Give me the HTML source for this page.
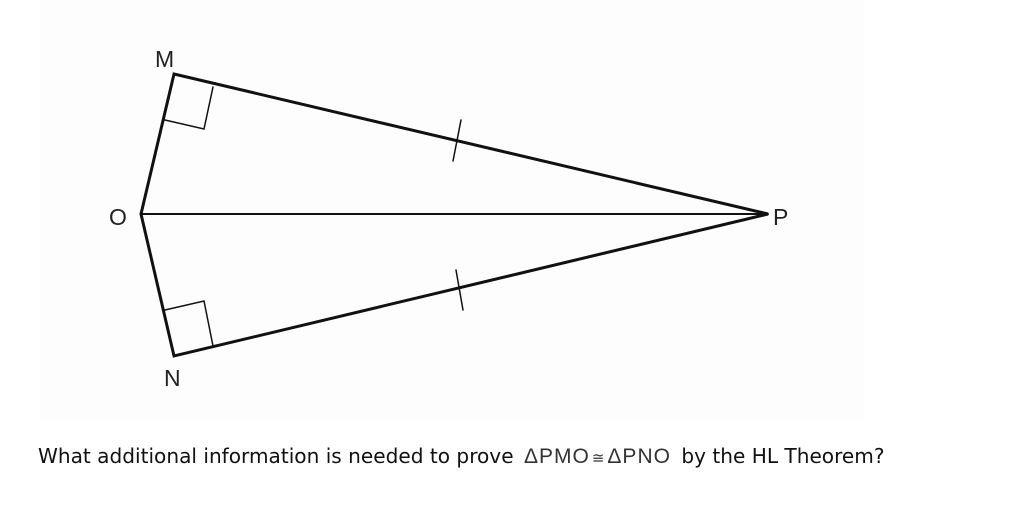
<!DOCTYPE html>
<html><head><meta charset="utf-8"><style>
html,body{margin:0;padding:0;background:#fff;}
body{width:1009px;height:506px;position:relative;overflow:hidden;}
svg{position:absolute;left:0;top:0;}
.q{position:absolute;left:38px;top:444px;font-family:"DejaVu Sans",sans-serif;font-size:20.1px;color:#111;white-space:nowrap;}
.m{display:inline-block;margin:0 4px 0 4px;font-family:"Liberation Sans",sans-serif;font-size:21px;color:#333;letter-spacing:1px;}
.c{font-size:15px;margin:0 2px;}
</style></head><body>
<svg width="1009" height="506">
<rect x="38" y="0" width="827" height="420" fill="#fdfdfd"/>
<g stroke="#111" fill="none" stroke-linecap="round">
<path d="M174 74 L768 214 L174 356 L141 214 Z" stroke-width="3"/>
<line x1="141" y1="214" x2="768" y2="214" stroke-width="2"/>
<path d="M165 120 L204 129 L213 87" stroke-width="1.5"/>
<path d="M165 310 L204 301 L213 346" stroke-width="1.5"/>
<line x1="453" y1="161" x2="461" y2="120" stroke-width="1.5"/>
<line x1="456" y1="270" x2="463" y2="310" stroke-width="1.5"/>
</g>
<g style="font-family:'Liberation Sans',sans-serif;font-size:23px;fill:#222">
<text x="155" y="67">M</text>
<text x="109" y="225">O</text>
<text x="773" y="225">P</text>
<text x="164" y="386">N</text>
</g>
</svg>
<div class="q">What additional information is needed to prove <span class="m">ΔPMO<span class="c">≅</span>ΔPNO</span> by the HL Theorem?</div>
</body></html>
